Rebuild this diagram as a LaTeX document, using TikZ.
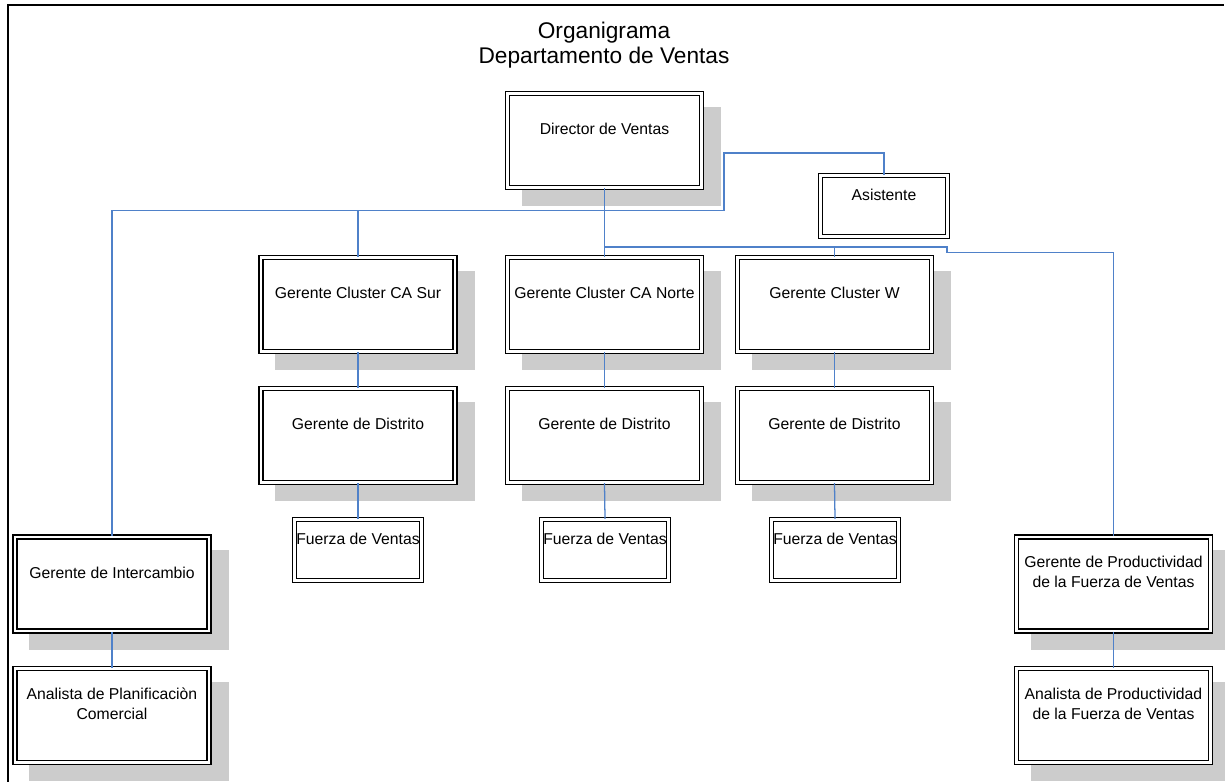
\documentclass[tikz,border=0pt]{standalone}
\usepackage{fontspec}
\setmainfont{Liberation Sans}
\usetikzlibrary{shadows}

\definecolor{linkblue}{RGB}{79,129,201}
\definecolor{shadegray}{RGB}{204,204,204}

\tikzset{
  framed/.style={double, draw=black, line width=1pt, double distance=1.8pt,
    fill=white, inner sep=0pt},
  shaded/.style={drop shadow={shadow xshift=12.75pt, shadow yshift=-12pt,
    fill=shadegray, draw=shadegray, line width=3.8pt, opacity=1}},
  bigbox/.style={framed, shaded, minimum width=194*0.75pt, minimum height=94*0.75pt},
  smallbox/.style={framed, minimum width=127*0.75pt, minimum height=61*0.75pt},
  % anchor=base sits on the last line of a multi-line text
  boxtext/.style={font=\fontsize{11.8}{15}\selectfont, align=center, anchor=base, inner sep=0pt},
  titletext/.style={font=\fontsize{17}{18.75}\selectfont, align=center, anchor=base, inner sep=0pt},
  link/.style={draw=linkblue, line width=0.95pt},
}

\begin{document}
\begin{tikzpicture}[x=0.75pt, y=-0.75pt]
  \useasboundingbox (0,0) rectangle (1225,782);

  % page frame (left and top edges)
  \draw[line width=1.5pt] (8,782) -- (8,5) -- (1224,5);

  % title
  \node[titletext] (title) at (604,63) {Organigrama\\Departamento de Ventas};

  % boxes
  \node[bigbox] (dir) at (604.5,140.5) {};
  \node[smallbox] (asis) at (884,206) {};

  \node[bigbox] (sur) at (358,304.5) {};
  \node[bigbox] (nor) at (604.5,304.5) {};
  \node[bigbox] (clw) at (834.5,304.5) {};

  \node[bigbox] (dsur) at (358,435.5) {};
  \node[bigbox] (dnor) at (604.5,435.5) {};
  \node[bigbox] (dclw) at (834.5,435.5) {};

  \node[smallbox] (fsur) at (358,550) {};
  \node[smallbox] (fnor) at (605,550) {};
  \node[smallbox] (fclw) at (835,550) {};

  \node[bigbox] (inter) at (112,584) {};
  \node[bigbox] (aplan) at (112,715.5) {};
  \node[bigbox] (prod) at (1113.5,584) {};
  \node[bigbox] (aprod) at (1113.5,715.5) {};

  % box labels
  \node[boxtext] (tdir) at ([yshift=-42*0.75pt]dir.north) {Director de Ventas};
  \node[boxtext] (tasis) at ([yshift=-26*0.75pt]asis.north) {Asistente};
  \node[boxtext] (tsur) at ([yshift=-42*0.75pt]sur.north) {Gerente Cluster CA Sur};
  \node[boxtext] (tnor) at ([yshift=-42*0.75pt]nor.north) {Gerente Cluster CA Norte};
  \node[boxtext] (tclw) at ([yshift=-42*0.75pt]clw.north) {Gerente Cluster W};
  \node[boxtext] (tdsur) at ([yshift=-42*0.75pt]dsur.north) {Gerente de Distrito};
  \node[boxtext] (tdnor) at ([yshift=-42*0.75pt]dnor.north) {Gerente de Distrito};
  \node[boxtext] (tdclw) at ([yshift=-42*0.75pt]dclw.north) {Gerente de Distrito};
  \node[boxtext] (tfsur) at ([yshift=-26*0.75pt]fsur.north) {Fuerza de Ventas};
  \node[boxtext] (tfnor) at ([yshift=-26*0.75pt]fnor.north) {Fuerza de Ventas};
  \node[boxtext] (tfclw) at ([yshift=-26*0.75pt]fclw.north) {Fuerza de Ventas};
  \node[boxtext] (tinter) at ([yshift=-42*0.75pt]inter.north) {Gerente de Intercambio};
  \node[boxtext] (taplan) at ([yshift=-51.5*0.75pt]aplan.north) {Analista de Planificaciòn\\Comercial};
  \node[boxtext] (tprod) at ([yshift=-51.5*0.75pt]prod.north) {Gerente de Productividad\\de la Fuerza de Ventas};
  \node[boxtext] (taprod) at ([yshift=-51.5*0.75pt]aprod.north) {Analista de Productividad\\de la Fuerza de Ventas};

  % bends of the connectors
  \coordinate (dirbus) at (604.5,247);
  \coordinate (stepup) at (947,247);
  \coordinate (stepdown) at (947,252.5);
  \coordinate (asistop) at (884,153);
  \coordinate (leftup) at (724,153);
  \coordinate (leftdown) at (724,210.5);

  % director line and right-hand branches
  \draw[link] (dir.south) -- (nor.north);
  \draw[link] (dirbus) -| (clw.north);
  \draw[link] (dirbus) -- (stepup) -- (stepdown) -| (prod.north);

  % assistant line and left-hand branches
  \draw[link] (asis.north) -- (asistop) -- (leftup) -- (leftdown) -| (inter.north);
  \draw[link] (sur.north |- leftdown) -- (sur.north);

  % columns
  \draw[link] (sur.south) -- (dsur.north);
  \draw[link] (dsur.south) -- (fsur.north);
  \draw[link] (nor.south) -- (dnor.north);
  \draw[link] (dnor.south) -- (fnor.north);
  \draw[link] (clw.south) -- (dclw.north);
  \draw[link] (dclw.south) -- (fclw.north);
  \draw[link] (inter.south) -- (aplan.north);
  \draw[link] (prod.south) -- (aprod.north);
\end{tikzpicture}
\end{document}
